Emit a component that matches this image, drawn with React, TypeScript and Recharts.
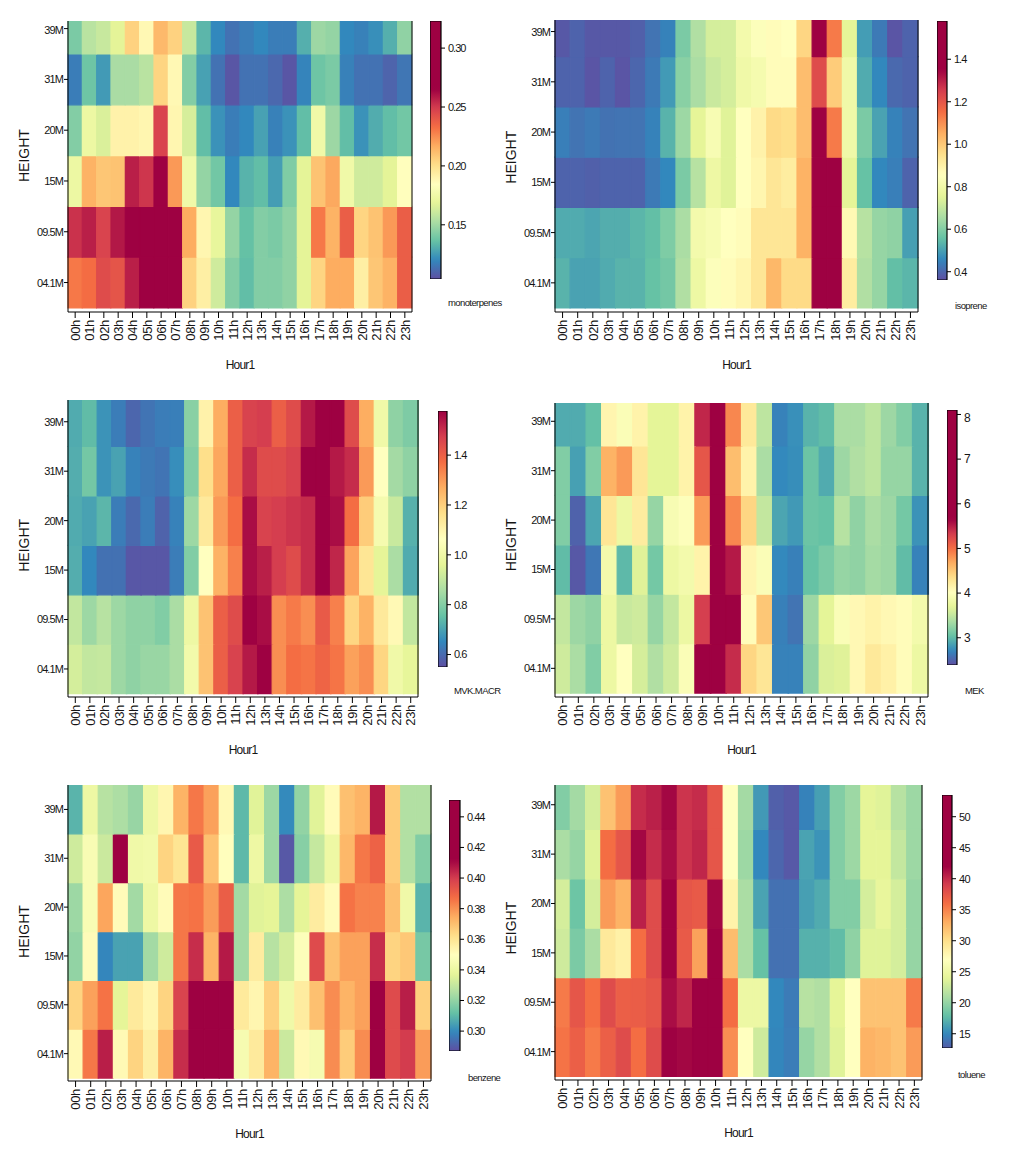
import React from 'react';
import { BarChart, Bar, XAxis, YAxis, Cell, Label } from 'recharts';

const HOURS = ['00h', '01h', '02h', '03h', '04h', '05h', '06h', '07h', '08h', '09h', '10h', '11h',
  '12h', '13h', '14h', '15h', '16h', '17h', '18h', '19h', '20h', '21h', '22h', '23h'];
// rows listed top to bottom
const HEIGHTS = ['39M', '31M', '20M', '15M', '09.5M', '04.1M'];

const monoterpenes = [
  [0.141, 0.156, 0.160, 0.168, 0.205, 0.188, 0.213, 0.205, 0.160, 0.133, 0.120, 0.114, 0.117, 0.120, 0.117, 0.117, 0.131, 0.149, 0.147, 0.120, 0.118, 0.122, 0.131, 0.146],
  [0.117, 0.138, 0.125, 0.152, 0.152, 0.156, 0.204, 0.188, 0.143, 0.127, 0.114, 0.106, 0.114, 0.114, 0.111, 0.106, 0.119, 0.138, 0.141, 0.118, 0.114, 0.114, 0.110, 0.115],
  [0.143, 0.173, 0.165, 0.191, 0.191, 0.189, 0.247, 0.189, 0.164, 0.135, 0.123, 0.117, 0.120, 0.127, 0.118, 0.123, 0.135, 0.175, 0.149, 0.135, 0.123, 0.130, 0.135, 0.139],
  [0.173, 0.215, 0.209, 0.210, 0.257, 0.251, 0.285, 0.222, 0.175, 0.147, 0.139, 0.120, 0.132, 0.135, 0.126, 0.142, 0.168, 0.210, 0.218, 0.175, 0.162, 0.162, 0.168, 0.185],
  [0.252, 0.257, 0.247, 0.259, 0.300, 0.318, 0.322, 0.278, 0.217, 0.189, 0.170, 0.147, 0.136, 0.143, 0.141, 0.146, 0.168, 0.230, 0.215, 0.238, 0.204, 0.210, 0.222, 0.238],
  [0.230, 0.233, 0.244, 0.241, 0.257, 0.296, 0.310, 0.288, 0.205, 0.193, 0.162, 0.143, 0.135, 0.143, 0.143, 0.146, 0.168, 0.204, 0.217, 0.217, 0.193, 0.209, 0.215, 0.238],
];

const isoprene = [
  [0.375, 0.395, 0.375, 0.375, 0.375, 0.39, 0.424, 0.449, 0.588, 0.667, 0.726, 0.726, 0.806, 0.845, 0.865, 0.855, 0.974, 1.45, 1.132, 0.756, 0.494, 0.434, 0.37, 0.395],
  [0.395, 0.395, 0.37, 0.395, 0.37, 0.40, 0.434, 0.489, 0.608, 0.657, 0.707, 0.726, 0.796, 0.815, 0.865, 0.865, 1.023, 1.221, 0.994, 0.796, 0.518, 0.459, 0.405, 0.395],
  [0.444, 0.424, 0.434, 0.42, 0.424, 0.424, 0.449, 0.533, 0.637, 0.756, 0.825, 0.746, 0.855, 0.895, 0.964, 0.954, 1.023, 1.50, 1.132, 0.796, 0.588, 0.504, 0.449, 0.424],
  [0.395, 0.395, 0.39, 0.395, 0.395, 0.395, 0.434, 0.459, 0.588, 0.677, 0.786, 0.746, 0.855, 0.885, 0.934, 0.914, 1.043, 1.55, 1.45, 0.756, 0.558, 0.459, 0.444, 0.395],
  [0.518, 0.518, 0.509, 0.523, 0.523, 0.538, 0.553, 0.593, 0.657, 0.806, 0.825, 0.855, 0.865, 0.934, 0.934, 0.934, 1.043, 1.56, 1.48, 0.875, 0.677, 0.627, 0.617, 0.499],
  [0.533, 0.504, 0.504, 0.518, 0.533, 0.533, 0.558, 0.578, 0.667, 0.786, 0.845, 0.865, 0.885, 0.934, 1.033, 0.964, 0.964, 1.57, 1.52, 0.914, 0.667, 0.627, 0.553, 0.538],
];

const mvkMacr = [
  [0.714, 0.745, 0.673, 0.632, 0.591, 0.617, 0.632, 0.637, 0.807, 1.105, 1.269, 1.402, 1.464, 1.474, 1.402, 1.443, 1.536, 1.577, 1.577, 1.443, 1.269, 1.002, 0.817, 0.791],
  [0.719, 0.776, 0.673, 0.699, 0.642, 0.627, 0.617, 0.663, 0.796, 1.166, 1.279, 1.402, 1.505, 1.443, 1.443, 1.464, 1.577, 1.577, 1.536, 1.505, 1.300, 1.064, 0.848, 0.817],
  [0.714, 0.699, 0.735, 0.632, 0.596, 0.632, 0.586, 0.642, 0.838, 1.135, 1.300, 1.372, 1.556, 1.464, 1.474, 1.490, 1.505, 1.577, 1.556, 1.372, 1.207, 1.022, 0.909, 0.725],
  [0.719, 0.653, 0.612, 0.612, 0.565, 0.565, 0.565, 0.632, 0.796, 1.064, 1.259, 1.341, 1.556, 1.526, 1.474, 1.443, 1.505, 1.577, 1.515, 1.284, 1.146, 0.961, 0.858, 0.714],
  [0.899, 0.838, 0.879, 0.838, 0.817, 0.817, 0.796, 0.858, 0.992, 1.228, 1.402, 1.443, 1.577, 1.556, 1.320, 1.351, 1.320, 1.413, 1.341, 1.187, 1.259, 1.135, 1.084, 0.899],
  [0.930, 0.899, 0.904, 0.838, 0.817, 0.832, 0.832, 0.858, 1.012, 1.228, 1.402, 1.464, 1.536, 1.577, 1.320, 1.372, 1.361, 1.392, 1.361, 1.289, 1.320, 1.187, 1.002, 0.966],
];

const mek = [
  [2.91, 2.91, 3.03, 4.12, 3.95, 4.15, 3.69, 3.69, 4.15, 5.45, 7.6, 4.87, 4.25, 3.47, 2.68, 2.76, 2.96, 3.01, 3.37, 3.37, 3.47, 3.30, 3.17, 2.96],
  [3.17, 2.85, 3.17, 4.64, 4.77, 4.28, 3.69, 3.69, 4.15, 5.16, 7.8, 4.57, 4.15, 3.37, 2.72, 2.75, 3.07, 2.91, 3.30, 3.40, 3.47, 3.27, 3.27, 2.96],
  [3.17, 2.50, 2.88, 4.28, 3.79, 4.22, 3.27, 3.92, 3.99, 4.77, 7.9, 4.87, 4.41, 3.50, 2.88, 2.81, 3.07, 3.04, 3.43, 3.24, 3.37, 3.30, 3.11, 2.78],
  [3.01, 2.44, 2.62, 3.86, 2.99, 3.66, 3.11, 3.79, 3.86, 4.15, 8.0, 5.52, 4.12, 3.95, 2.72, 2.67, 3.04, 3.14, 3.27, 3.24, 3.34, 3.30, 3.01, 2.68],
  [3.50, 3.30, 3.24, 3.79, 3.53, 3.56, 3.27, 3.50, 3.79, 5.32, 7.2, 6.3, 4.05, 4.51, 2.67, 2.60, 3.30, 3.69, 3.95, 4.09, 4.15, 4.09, 4.05, 3.86],
  [3.56, 3.37, 3.17, 3.79, 4.02, 3.60, 3.40, 3.56, 3.95, 6.6, 7.4, 5.42, 4.41, 4.28, 2.68, 2.68, 3.24, 3.63, 3.66, 4.09, 4.25, 4.17, 4.05, 3.79],
];

const benzene = [
  [0.309, 0.341, 0.327, 0.325, 0.321, 0.341, 0.353, 0.373, 0.385, 0.377, 0.352, 0.310, 0.336, 0.322, 0.300, 0.320, 0.336, 0.351, 0.370, 0.373, 0.407, 0.367, 0.326, 0.326],
  [0.332, 0.346, 0.331, 0.435, 0.342, 0.343, 0.365, 0.360, 0.392, 0.370, 0.350, 0.310, 0.341, 0.322, 0.289, 0.318, 0.330, 0.341, 0.372, 0.385, 0.390, 0.367, 0.326, 0.317],
  [0.322, 0.346, 0.376, 0.351, 0.323, 0.341, 0.351, 0.385, 0.386, 0.378, 0.391, 0.323, 0.336, 0.337, 0.325, 0.337, 0.357, 0.351, 0.386, 0.383, 0.383, 0.370, 0.342, 0.309],
  [0.320, 0.351, 0.299, 0.305, 0.305, 0.323, 0.332, 0.385, 0.403, 0.373, 0.407, 0.323, 0.357, 0.327, 0.333, 0.348, 0.396, 0.370, 0.377, 0.377, 0.403, 0.365, 0.368, 0.315],
  [0.365, 0.377, 0.386, 0.337, 0.358, 0.353, 0.365, 0.398, 0.430, 0.445, 0.440, 0.358, 0.353, 0.366, 0.342, 0.357, 0.370, 0.381, 0.373, 0.377, 0.448, 0.396, 0.406, 0.366],
  [0.352, 0.385, 0.406, 0.352, 0.365, 0.356, 0.373, 0.403, 0.415, 0.440, 0.445, 0.345, 0.358, 0.373, 0.331, 0.352, 0.345, 0.381, 0.367, 0.381, 0.450, 0.396, 0.400, 0.378],
];

const toluene = [
  [19.2, 20.7, 23.1, 31.8, 33.9, 39.9, 40.5, 41.7, 39.5, 39.9, 37.5, 27.0, 20.7, 15.9, 12.9, 12.5, 14.7, 16.2, 19.2, 20.4, 24.0, 23.7, 21.6, 20.4],
  [21.0, 20.1, 23.7, 36.0, 37.5, 41.7, 39.9, 41.4, 39.5, 40.2, 37.5, 27.0, 20.4, 15.0, 13.2, 12.5, 16.4, 15.6, 19.2, 20.4, 24.0, 24.0, 22.2, 20.4],
  [23.1, 18.3, 23.1, 33.9, 32.7, 40.5, 38.1, 44.0, 37.5, 37.2, 41.7, 28.2, 21.0, 16.4, 13.8, 13.8, 16.2, 16.8, 19.2, 19.2, 23.1, 24.3, 23.1, 20.1],
  [22.8, 18.9, 21.0, 29.1, 28.4, 36.0, 38.1, 45.0, 37.2, 33.6, 43.0, 32.1, 21.0, 18.0, 13.8, 13.8, 17.1, 17.1, 17.7, 19.8, 23.7, 23.7, 23.1, 20.1],
  [35.4, 37.5, 36.0, 38.1, 36.9, 37.0, 37.5, 41.4, 40.2, 44.0, 46.0, 36.0, 24.9, 24.9, 15.0, 14.3, 21.6, 21.3, 24.0, 27.0, 31.8, 31.8, 31.8, 35.4],
  [35.7, 36.9, 35.4, 36.9, 38.1, 36.0, 38.1, 47.0, 41.7, 48.0, 45.0, 34.5, 27.0, 22.8, 14.9, 14.4, 20.1, 21.3, 23.7, 27.0, 32.7, 32.4, 31.8, 33.9],
];

const monoTicks = [0.15, 0.2, 0.25, 0.3];
const isoTicks = [0.4, 0.6, 0.8, 1.0, 1.2, 1.4];
const mvkTicks = [0.6, 0.8, 1.0, 1.2, 1.4];
const mekTicks = [3, 4, 5, 6, 7, 8];
const benzTicks = [0.3, 0.32, 0.34, 0.36, 0.38, 0.4, 0.42, 0.44];
const tolTicks = [15, 20, 25, 30, 35, 40, 45, 50];

const SPECTRAL = ['#5e4fa2', '#3288bd', '#66c2a5', '#abdda4', '#e6f598', '#ffffbf',
  '#fee08b', '#fdae61', '#f46d43', '#d53e4f', '#9e0142'];
const FONT = '"Liberation Sans", Arial, sans-serif';
const INK = '#151515';

const rgb = (h: string) => [1, 3, 5].map((i) => parseInt(h.slice(i, i + 2), 16));

// values above `hi` stay at the darkest red, like the original colour scale
function colorAt(v: number, lo: number, hi: number) {
  const t = Math.min(1, Math.max(0, (v - lo) / (hi - lo))) * (SPECTRAL.length - 1);
  const i = Math.min(SPECTRAL.length - 2, Math.floor(t));
  const f = t - i;
  const a = rgb(SPECTRAL[i]);
  const b = rgb(SPECTRAL[i + 1]);
  const c = a.map((x, k) => Math.round(x + (b[k] - x) * f));
  return `rgb(${c[0]},${c[1]},${c[2]})`;
}

type Panel = {
  id: string;
  name: string;
  values: number[][];
  lo: number;
  hi: number;
  left: number;
  right: number;
  top: number;
  bottom: number;
  yMin: number;
  yMax: number;
  barX: number;
  barW: number;
  barTop: number;
  barBottom: number;
  barMin: number;
  barMax: number;
  barTicks: number[];
  digits: number;
  tickSize: number;
  tickSpacing: number;
  nameX: number;
  nameY: number;
};

const panels: Panel[] = [
  { id: 'mono', name: 'monoterpenes', values: monoterpenes, lo: 0.104, hi: 0.265,
    left: 68, right: 412, top: 21, bottom: 312, yMin: -0.08, yMax: 5.65,
    barX: 430, barW: 11, barTop: 21, barBottom: 279, barMin: 0.104, barMax: 0.323, barTicks: monoTicks, digits: 2,
    tickSize: 11, tickSpacing: -1, nameX: 448, nameY: 303 },
  { id: 'iso', name: 'isoprene', values: isoprene, lo: 0.36, hi: 1.35,
    left: 555, right: 918, top: 20, bottom: 312, yMin: -0.08, yMax: 5.73,
    barX: 937, barW: 10, barTop: 21, barBottom: 280, barMin: 0.361, barMax: 1.58, barTicks: isoTicks, digits: 1,
    tickSize: 11, tickSpacing: -1, nameX: 955, nameY: 306 },
  { id: 'mvk', name: 'MVK.MACR', values: mvkMacr, lo: 0.55, hi: 1.577,
    left: 68, right: 418, top: 400, bottom: 697, yMin: -0.067, yMax: 5.94,
    barX: 438, barW: 9, barTop: 411, barBottom: 667, barMin: 0.55, barMax: 1.577, barTicks: mvkTicks, digits: 1,
    tickSize: 11, tickSpacing: -1, nameX: 454, nameY: 691 },
  { id: 'mek', name: 'MEK', values: mek, lo: 2.39, hi: 5.65,
    left: 555, right: 928, top: 403, bottom: 697, yMin: -0.08, yMax: 5.87,
    barX: 947, barW: 10, barTop: 410, barBottom: 665, barMin: 2.39, barMax: 8.1, barTicks: mekTicks, digits: 0,
    tickSize: 12, tickSpacing: 0, nameX: 965, nameY: 691 },
  { id: 'benz', name: 'benzene', values: benzene, lo: 0.287, hi: 0.412,
    left: 68, right: 431, top: 785, bottom: 1081, yMin: -0.06, yMax: 6.0,
    barX: 449, barW: 11, barTop: 800, barBottom: 1051, barMin: 0.287, barMax: 0.451, barTicks: benzTicks, digits: 2,
    tickSize: 11, tickSpacing: -1, nameX: 468, nameY: 1078 },
  { id: 'tol', name: 'toluene', values: toluene, lo: 12, hi: 42,
    left: 555, right: 922, top: 785, bottom: 1080, yMin: -0.075, yMax: 5.9,
    barX: 942, barW: 10, barTop: 795, barBottom: 1048, barMin: 12.7, barMax: 53.5, barTicks: tolTicks, digits: 0,
    tickSize: 11, tickSpacing: -0.5, nameX: 958, nameY: 1075 },
];

const Y_W = 68;
const R_W = 10;
const X_H = 62;

const HourTick = (props: any) => {
  const { x, y, payload } = props;
  return (
    <text transform={`translate(${x},${y}) rotate(-90)`} textAnchor="end" dy="0.36em"
      fontSize={13} fontFamily={FONT} fill={INK} letterSpacing={-0.3}>
      {payload.value}
    </text>
  );
};

const HeightTick = (props: any) => {
  const { x, y, payload } = props;
  const label = HEIGHTS[HEIGHTS.length - 1 - Math.floor(payload.value)];
  return (
    <text x={x} y={y} dy="0.36em" textAnchor="end" fontSize={11} fontFamily={FONT} fill={INK} letterSpacing={-0.9}>
      {label}
    </text>
  );
};

function Heatmap({ p }: { p: Panel }) {
  const plotW = p.right - p.left;
  const plotH = p.bottom - p.top;
  const rows = HEIGHTS.length;
  const data = HOURS.map((h) => {
    const d: any = { hour: h };
    HEIGHTS.forEach((_, r) => { d['s' + r] = 1; });
    return d;
  });
  const yTicks = HEIGHTS.map((_, k) => k + 0.5);
  // "HEIGHT" sits at the middle of the six rows, not of the clipped plot
  const midShift = ((p.yMax - rows / 2) / (p.yMax - p.yMin)) * plotH - plotH / 2;

  return (
    <div style={{ position: 'absolute', left: p.left - Y_W, top: p.top }}>
      <BarChart width={Y_W + plotW + R_W} height={plotH + X_H} data={data}
        margin={{ top: 0, right: 0, bottom: 0, left: 0 }} barCategoryGap={0} barGap={0}>
        <XAxis dataKey="hour" height={X_H} interval={0} tickSize={6} tickMargin={2}
          tick={<HourTick />} axisLine={{ stroke: '#000' }} tickLine={{ stroke: '#000' }}>
          <Label value="Hour1" position="insideBottom" offset={5}
            style={{ fontSize: 12, fontFamily: FONT, fill: INK, letterSpacing: -0.8 }} />
        </XAxis>
        <YAxis yAxisId="l" type="number" domain={[p.yMin, p.yMax]} allowDataOverflow ticks={yTicks}
          width={Y_W} tickSize={4} tickMargin={1} tick={<HeightTick />}
          axisLine={{ stroke: '#000' }} tickLine={{ stroke: '#000' }}>
          <Label value="HEIGHT" angle={-90} position="center" dx={-10} dy={midShift}
            style={{ fontSize: 14, fontFamily: FONT, fill: INK }} />
        </YAxis>
        <YAxis yAxisId="r" orientation="right" type="number" domain={[p.yMin, p.yMax]} allowDataOverflow
          ticks={yTicks} width={R_W} tickSize={5} tick={false}
          axisLine={{ stroke: '#000' }} tickLine={{ stroke: '#000' }} />
        {HEIGHTS.map((_, r) => {
          const row = p.values[rows - 1 - r];
          return (
            <Bar key={r} yAxisId="l" dataKey={'s' + r} stackId="h" isAnimationActive={false}>
              {HOURS.map((h, i) => {
                const c = colorAt(row[i], p.lo, p.hi);
                return <Cell key={h} fill={c} stroke={c} strokeWidth={1.2} />;
              })}
            </Bar>
          );
        })}
      </BarChart>
    </div>
  );
}

function ColorBar({ p }: { p: Panel }) {
  const gid = 'cbar-' + p.id;
  const h = p.barBottom - p.barTop;
  const stops = Array.from({ length: 61 }, (_, i) => i / 60);
  const BarTick = (props: any) => {
    const { x, y, payload } = props;
    return (
      <text x={x} y={y} dy="0.36em" textAnchor="start" fontSize={p.tickSize} fontFamily={FONT}
        fill={INK} letterSpacing={p.tickSpacing}>
        {Number(payload.value).toFixed(p.digits)}
      </text>
    );
  };
  return (
    <div style={{ position: 'absolute', left: p.barX, top: p.barTop - 1 }}>
      <BarChart width={p.barW + 44} height={h + 2} data={[{ name: p.name, range: [p.barMin, p.barMax] }]}
        margin={{ top: 1, right: 0, bottom: 1, left: 0 }} barCategoryGap={0}>
        <defs>
          <linearGradient id={gid} x1="0" y1="1" x2="0" y2="0">
            {stops.map((s) => (
              <stop key={s} offset={s} stopColor={colorAt(p.barMin + s * (p.barMax - p.barMin), p.lo, p.hi)} />
            ))}
          </linearGradient>
        </defs>
        <XAxis dataKey="name" hide />
        <YAxis orientation="right" type="number" domain={[p.barMin, p.barMax]} allowDataOverflow
          ticks={p.barTicks} width={44} axisLine={false} tickSize={4} tickMargin={3}
          tickLine={{ stroke: '#000' }} tick={<BarTick />} />
        <Bar dataKey="range" fill={`url(#${gid})`} stroke="#000" strokeWidth={1.2} isAnimationActive={false} />
      </BarChart>
      <div style={{ position: 'absolute', left: p.nameX - p.barX, top: p.nameY - p.barTop - 5,
        fontFamily: FONT, fontSize: 9.5, letterSpacing: -0.6, color: INK, whiteSpace: 'nowrap', lineHeight: '12px' }}>
        {p.name}
      </div>
    </div>
  );
}

export default function App() {
  return (
    <div style={{ position: 'absolute', left: 0, top: 0, width: 1031, height: 1153, background: '#fff' }}>
      {panels.map((p) => (
        <React.Fragment key={p.id}>
          <Heatmap p={p} />
          <ColorBar p={p} />
        </React.Fragment>
      ))}
    </div>
  );
}
